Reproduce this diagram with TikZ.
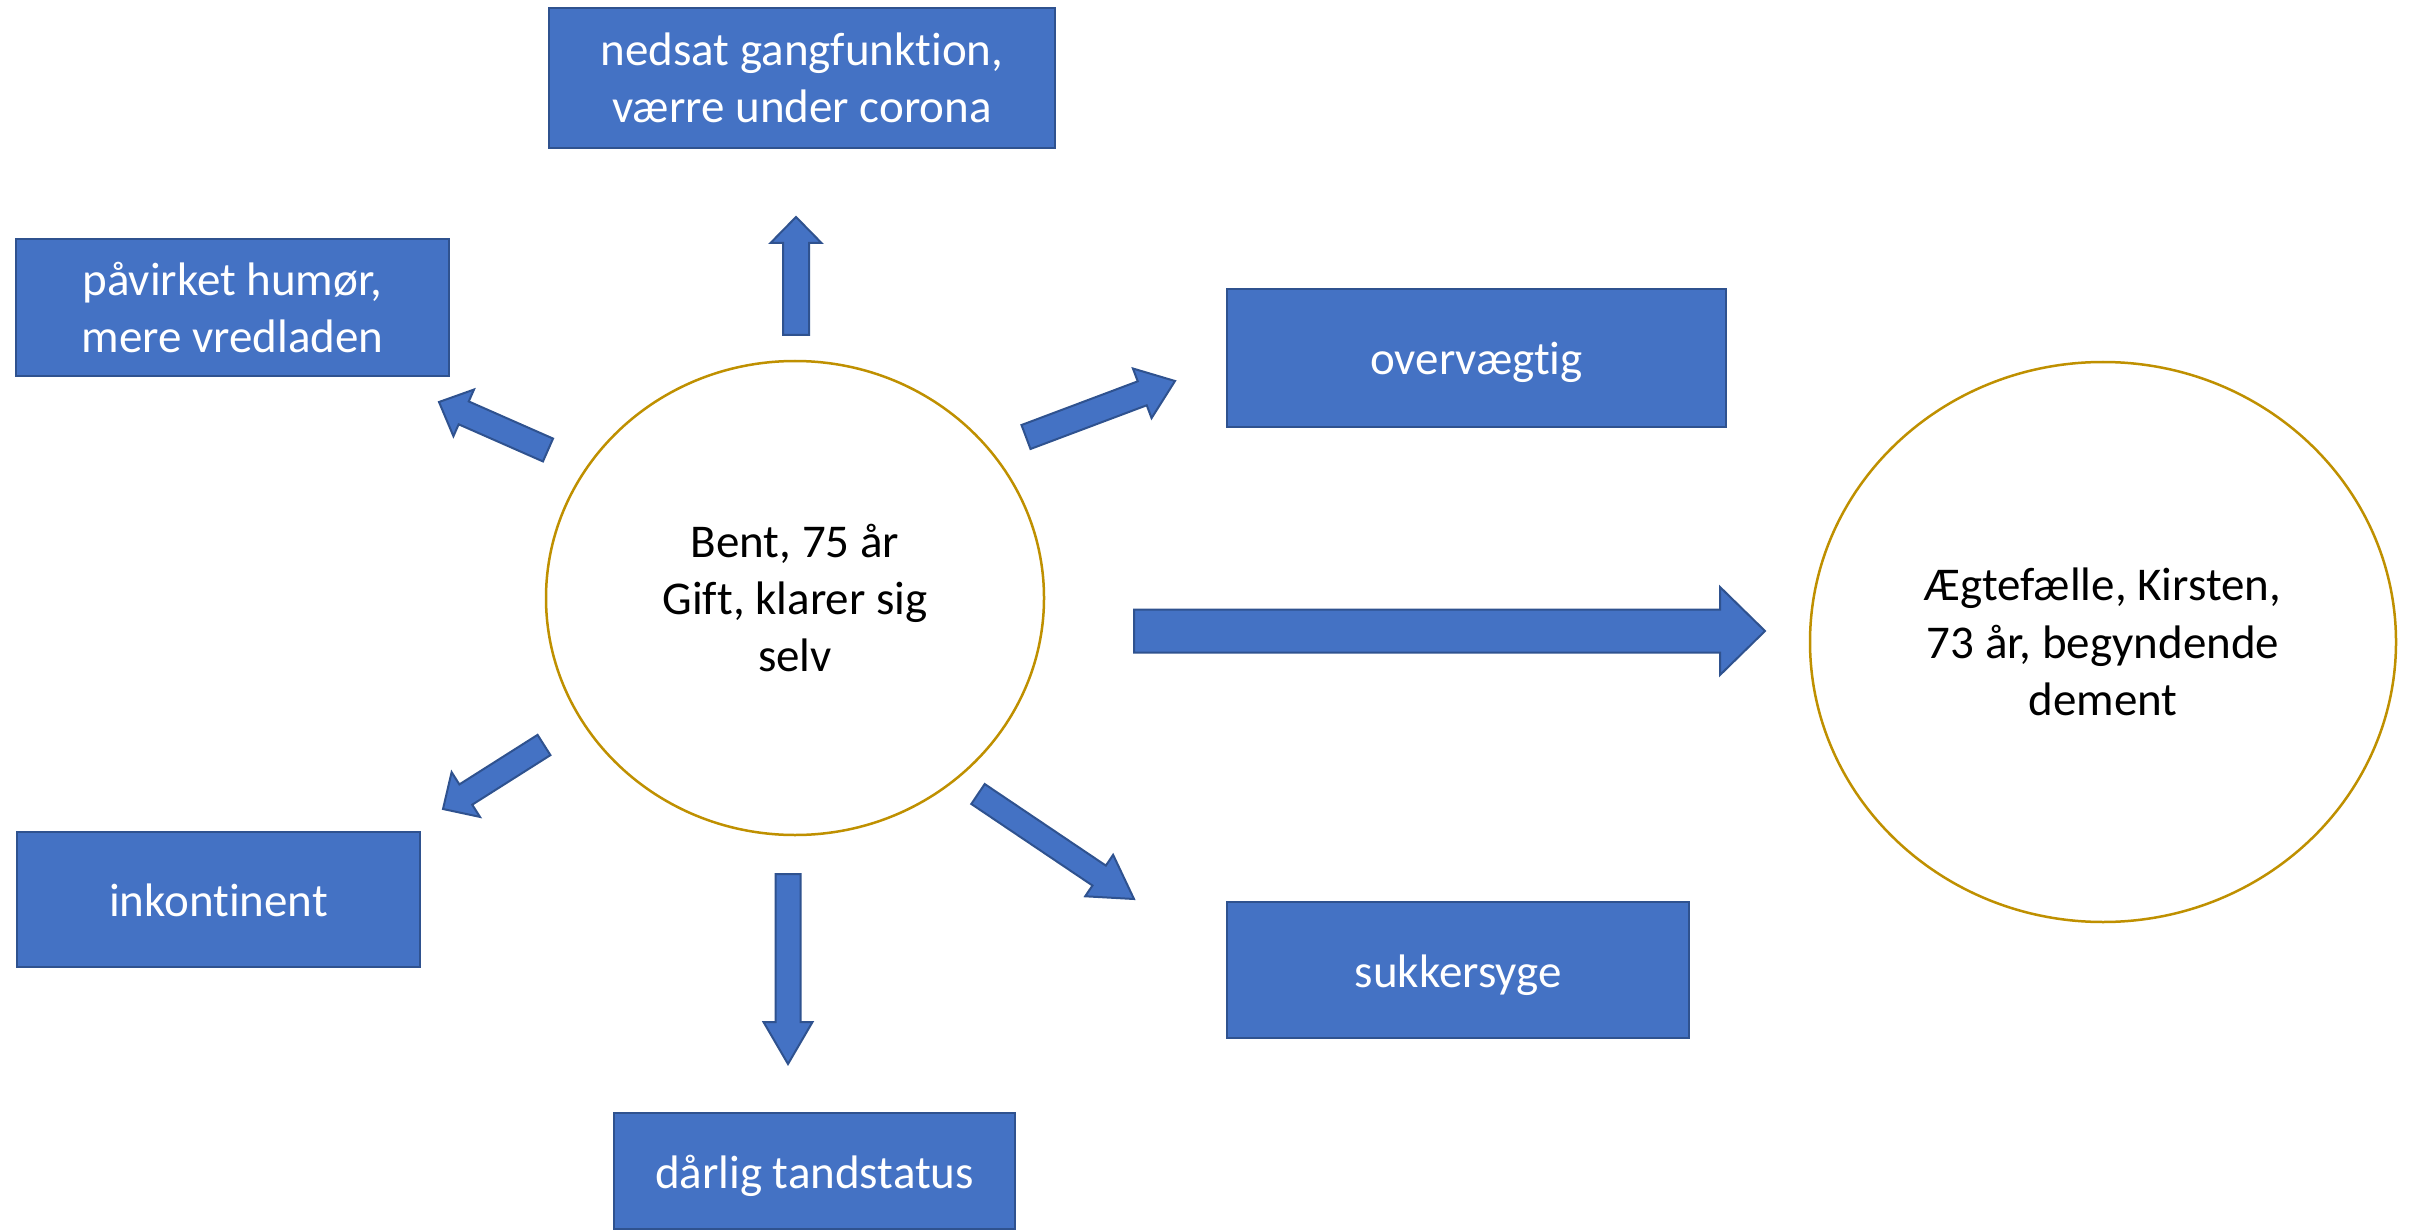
\documentclass[tikz,border=0pt]{standalone}
\usepackage{fontspec}
\setmainfont{Carlito}[Ligatures={NoCommon,TeX}]
\usetikzlibrary{calc,shapes.geometric}
\definecolor{boxblue}{HTML}{4472C4}
\definecolor{boxedge}{HTML}{2F528F}
\definecolor{ringgold}{HTML}{BF9000}
\tikzset{
  infobox/.style={draw=boxedge, fill=boxblue, line width=2.5pt, text=white,
    font=\fontsize{47}{57.4}\selectfont, align=center, inner sep=0pt, rectangle},
  oneline/.style={text height=40pt, text depth=6pt},
  person/.style={ellipse, draw=ringgold, fill=white, line width=2.5pt,
    font=\fontsize{47}{57.4}\selectfont, align=center, inner sep=0pt},
  blockarrow/.style={draw=boxedge, fill=boxblue, line width=2pt, line join=miter}
}
% #1 name, #2 tail, #3 tip, #4 shaft half width, #5 head half width, #6 head length
\newcommand{\blockarr}[6]{%
  \coordinate (#1t) at (#2);
  \coordinate (#1h) at (#3);
  \coordinate (#1b) at ($(#1h)!#6!(#1t)$);
  \draw[blockarrow] ($(#1t)!#4!90:(#1h)$) -- ($(#1b)!#4!-90:(#1t)$)
    -- ($(#1b)!#5!-90:(#1t)$) -- (#1h) -- ($(#1b)!#5!90:(#1t)$)
    -- ($(#1b)!#4!90:(#1t)$) -- ($(#1t)!#4!-90:(#1h)$) -- cycle;}
\begin{document}
\begin{tikzpicture}[x=1pt,y=-1pt]
\useasboundingbox (0,0) rectangle (2415,1230);
\clip (0,0) rectangle (2415,1230);
\fill[white] (0,0) rectangle (2415,1230);

% boxes
\node[infobox, minimum width=506pt, minimum height=140pt] (gang) at (802,78)
  {nedsat gangfunktion,\\værre under corona};
\node[infobox, minimum width=433pt, minimum height=137pt] (humor) at (232.5,307.5)
  {påvirket humør,\\mere vredladen};
\node[infobox, oneline, minimum width=499pt, minimum height=138pt] (overv) at (1476.5,358)
  {overvægtig};
\node[infobox, oneline, minimum width=403pt, minimum height=135pt] (inkont) at (218.5,899.5)
  {inkontinent};
\node[infobox, oneline, minimum width=462pt, minimum height=136pt] (sukker) at (1458,970)
  {sukkersyge};
\node[infobox, oneline, minimum width=401pt, minimum height=116pt] (tand) at (814.5,1171)
  {dårlig tandstatus};

% persons
\node[person, minimum width=498pt, minimum height=474pt] (bent) at (795,598)
  {Bent, 75 år\\Gift, klarer sig\\selv};
\node[person, minimum width=586pt, minimum height=560pt] (kirsten) at (2103,642)
  {Ægtefælle, Kirsten,\\73 år, begyndende\\dement};

% block arrows
\blockarr{up}{796,335}{796,217}{13pt}{25.5pt}{26pt}
\blockarr{ul}{548,450}{439,402}{12.5pt}{25.5pt}{27pt}
\blockarr{ur}{1026,437}{1175,381}{12.8pt}{26.5pt}{35pt}
\blockarr{ll}{544,745}{443,809}{12pt}{26.5pt}{27pt}
\blockarr{lr}{978,794}{1134,899}{12pt}{25pt}{42pt}
\blockarr{dn}{788,874}{788,1064}{12.5pt}{24.5pt}{42pt}
\blockarr{hz}{1134,631}{1765,631}{21.5pt}{44pt}{45pt}
\end{tikzpicture}
\end{document}
